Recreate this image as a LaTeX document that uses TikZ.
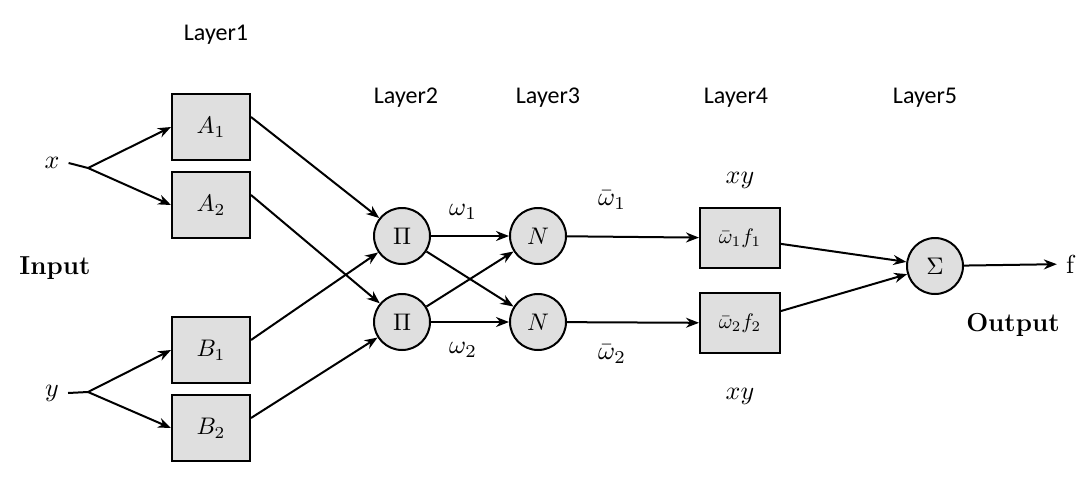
\documentclass[tikz,border=0pt]{standalone}
\usepackage{fontspec}
\newfontfamily\carl{Carlito}
\usetikzlibrary{arrows.meta}
\begin{document}
\begin{tikzpicture}[x=1pt,y=-1pt,
  box/.style={draw,line width=2pt,fill=gray!25,minimum width=78pt,minimum height=66pt,inner sep=0pt},
  circ/.style={draw,line width=2pt,fill=gray!25,circle,minimum size=56pt,inner sep=0pt},
  lay/.style={font=\carl\fontsize{24}{26}\selectfont},
  bl/.style={font=\bfseries\fontsize{26}{28}\selectfont},
  ar/.style={line width=2pt,-{Stealth[length=13pt,width=10pt]}}]
\useasboundingbox (0,0) rectangle (1078,480);
\node[lay] (l1) at (216,35) {Layer1};
\node[lay] (l2) at (406,98) {Layer2};
\node[lay] (l3) at (548,98) {Layer3};
\node[lay] (l4) at (736,98) {Layer4};
\node[lay] (l5) at (925,98) {Layer5};
\node[scale=2.6] (x) at (52,163) {$x$};
\node[scale=2.6] (y) at (52,393) {$y$};
\node[bl] (in) at (55,268) {Input};
\node[bl] (out) at (1013,325) {Output};
\coordinate (fx) at (88,168);
\coordinate (fy) at (88,392);
\node[box] (A1) at (211,127) {\scalebox{2.4}{$A_1$}};
\node[box] (A2) at (211,205) {\scalebox{2.4}{$A_2$}};
\node[box] (B1) at (211,350) {\scalebox{2.4}{$B_1$}};
\node[box] (B2) at (211,428) {\scalebox{2.4}{$B_2$}};
\node[circ] (P1) at (402,236) {\scalebox{2.4}{$\Pi$}};
\node[circ] (P2) at (402,322) {\scalebox{2.4}{$\Pi$}};
\node[circ] (N1) at (538,236) {\scalebox{2.4}{$N$}};
\node[circ] (N2) at (538,322) {\scalebox{2.4}{$N$}};
\node[box,minimum width=80pt,minimum height=60pt] (F1) at (740,238) {\scalebox{2.1}{$\bar\omega_1 f_1$}};
\node[box,minimum width=80pt,minimum height=60pt] (F2) at (740,323) {\scalebox{2.1}{$\bar\omega_2 f_2$}};
\node[circ] (S) at (935,266) {\scalebox{2.4}{$\Sigma$}};
\node[scale=2.6] (f) at (1070,264) {f};
\node[scale=2.6] (w1) at (463,212) {$\omega_1$};
\node[scale=2.6] (w2) at (463,350) {$\omega_2$};
\node[scale=2.6] (wb1) at (612,200) {$\bar\omega_1$};
\node[scale=2.6] (wb2) at (612,354) {$\bar\omega_2$};
\node[scale=2.6] (xy1) at (740,180) {$xy$};
\node[scale=2.6] (xy2) at (740,396) {$xy$};
\draw[line width=2pt] (x.east) -- (fx);
\draw[line width=2pt] (y.east) -- (fy);
\draw[ar] (fx) -- (A1.west);
\draw[ar] (fx) -- (A2.west);
\draw[ar] (fy) -- (B1.west);
\draw[ar] (fy) -- (B2.west);
\draw[ar] (A1.east) ++(0,-10) -- (P1);
\draw[ar] (A2.east) ++(0,-10) -- (P2);
\draw[ar] (B1.east) ++(0,-10) -- (P1);
\draw[ar] (B2.east) ++(0,-10) -- (P2);
\draw[ar] (P1) -- (N1);
\draw[ar] (P1) -- (N2);
\draw[ar] (P2) -- (N1);
\draw[ar] (P2) -- (N2);
\draw[ar] (N1) -- (F1);
\draw[ar] (N2) -- (F2);
\draw[ar] (F1) -- (S);
\draw[ar] (F2) -- (S);
\draw[ar] (S) -- (f);
\end{tikzpicture}
\end{document}
